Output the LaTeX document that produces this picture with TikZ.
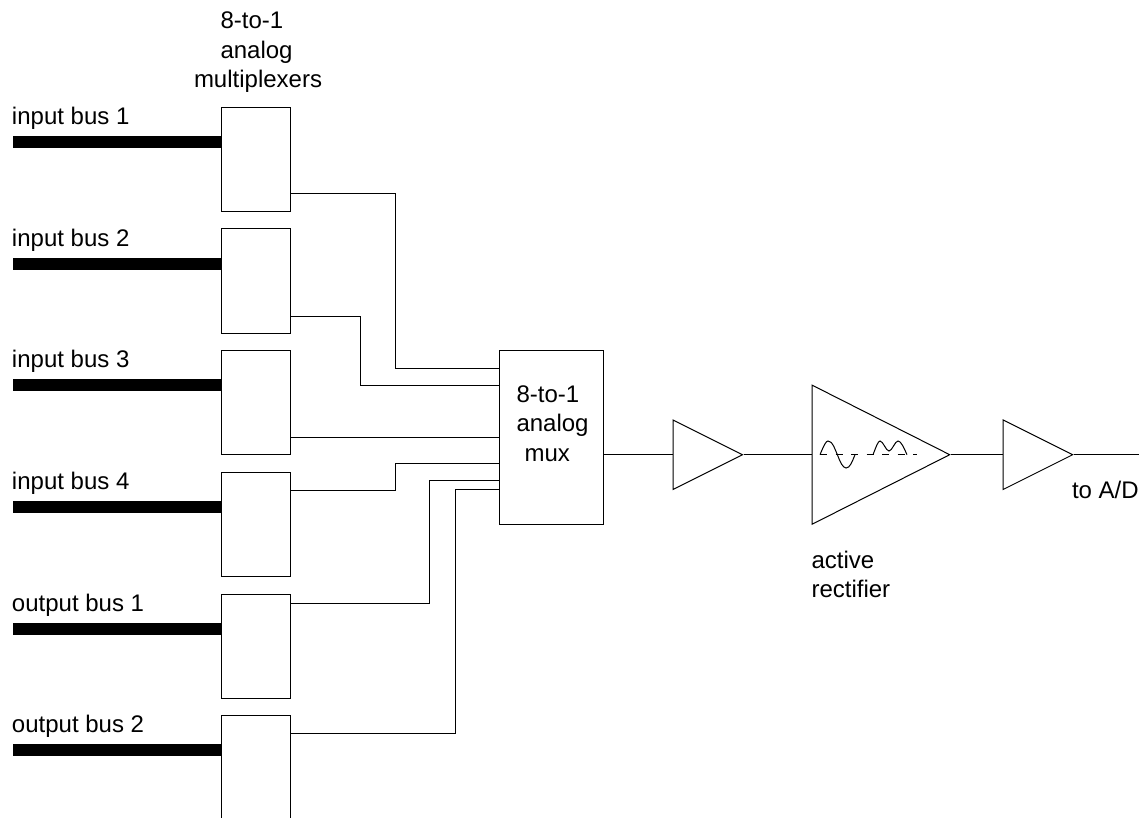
\documentclass[tikz,border=0pt]{standalone}
\usepackage{fontspec}
\setmainfont{Liberation Sans}
\usetikzlibrary{shapes.geometric}
\tikzset{
  muxbox/.style={draw, minimum width=69pt, minimum height=104pt, inner sep=0pt},
  amp/.style={draw, isosceles triangle, isosceles triangle stretches, shape border rotate=0,
    inner sep=0pt, anchor=lower side, minimum width=69.5pt, minimum height=69.5pt},
  bus/.style={line width=12pt},
  lbl/.style={inner sep=0pt, anchor=base west}
}

\begin{document}
\begin{tikzpicture}[x=1pt, y=-1pt, line width=1pt, font=\fontsize{24}{29.5}\selectfont]
  \useasboundingbox (0,0) rectangle (1139,818);
  \clip (0,0) rectangle (1139,818);
  % first row of muxes
  \node[muxbox] (boxa) at (255.5,160) {};
  \node[muxbox] (boxb) at (255.5,281) {};
  \node[muxbox] (boxc) at (255.5,402) {};
  \node[muxbox] (boxd) at (255.5,524) {};
  \node[muxbox] (boxe) at (255.5,646) {};
  \node[muxbox] (boxf) at (255.5,767) {};
  \node[draw, minimum width=104pt, minimum height=173.5pt, inner sep=0pt]
    (mainmux) at (551,437.5) {};
  \node[amp] (ampa) at (672.5,454.7) {};
  \node[amp, minimum width=139pt, minimum height=137.5pt] (rect) at (811.7,454.7) {};
  \node[amp] (ampb) at (1002.7,454.7) {};
  % buses
  \foreach \nm/\y/\txt in {a/142/input bus 1, b/264/input bus 2, c/385/input bus 3,
      d/507/input bus 4, e/629/output bus 1, f/750/output bus 2} {
    \coordinate (bus\nm) at (13,\y);
    \draw[bus] (bus\nm) -- (bus\nm -| box\nm.west);
    \node[lbl] (lbl\nm) at (11.5,\y-17.5) {\txt};
  }
  % wires to the main mux
  \draw (boxa.east |- 0,194) -| (395,368) -- (mainmux.west |- 0,368);
  \draw (boxb.east |- 0,316) -| (360,385) -- (mainmux.west |- 0,385);
  \draw (boxc.east |- 0,437) -- (mainmux.west |- 0,437);
  \draw (boxd.east |- 0,490) -| (395,463) -- (mainmux.west |- 0,463);
  \draw (boxe.east |- 0,603) -| (429.5,480.7) -- (mainmux.west |- 0,480.7);
  \draw (boxf.east |- 0,733) -| (455.5,489.7) -- (mainmux.west |- 0,489.7);
  % output chain
  \coordinate (out) at (1139,454.7);
  \draw (mainmux.east |- ampa.lower side) -- (ampa.lower side);
  \draw (ampa.apex) -- (rect.lower side);
  \draw (rect.apex) -- (ampb.lower side);
  \draw (ampb.apex) -- (out);
  % waveforms
  \draw (820,454.7) .. controls (824,445) and (826,441) .. (828,441)
    .. controls (833,441) and (835,450) .. (837.5,455)
    .. controls (840,462) and (843,468) .. (846,468)
    .. controls (850,468) and (852,462) .. (855,454.7);
  \draw (873,454.7) .. controls (876,447) and (878,441) .. (880,441)
    .. controls (883,441) and (886,451) .. (889,451)
    .. controls (892,451) and (895,441) .. (898,441)
    .. controls (901,441) and (904,448) .. (907,454.7);
  \draw[dash pattern=on 7pt off 8.5pt] (820,454.7) -- (917,454.7);
  % labels
  \node[lbl] (muxlbla) at (220,29) {8-to-1};
  \node[lbl] (muxlblb) at (220,59) {analog};
  \node[lbl] (muxlblc) at (193.5,88) {multiplexers};
  \node[lbl] (mainlbla) at (516,402.3) {8-to-1};
  \node[lbl] (mainlblb) at (516,431.7) {analog};
  \node[lbl] (mainlblc) at (524,461.7) {mux};
  \node[lbl] (rectlbla) at (811,568) {active};
  \node[lbl] (rectlblb) at (811,597) {rectifier};
  \node[lbl] (adlbl) at (1071.5,498) {to A/D};
\end{tikzpicture}
\end{document}
